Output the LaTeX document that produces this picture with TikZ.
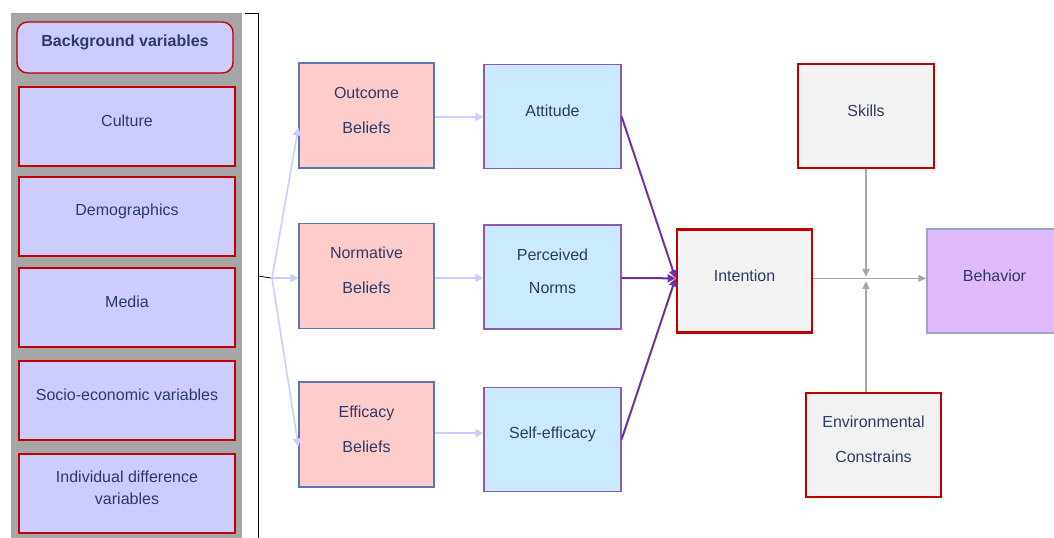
\documentclass[tikz,border=0pt]{standalone}
\usepackage{fontspec}
\setmainfont{Liberation Sans}
\usetikzlibrary{arrows.meta}

\definecolor{txtnavy}{HTML}{2E3B66}
\definecolor{panelgray}{HTML}{A6A6A6}
\definecolor{lavender}{HTML}{CCCCFF}
\definecolor{boxred}{HTML}{C00000}
\definecolor{pinkfill}{HTML}{FFCCCC}
\definecolor{pinkline}{HTML}{5676B4}
\definecolor{bluefill}{HTML}{CCEAFF}
\definecolor{purpline}{HTML}{7030A0}
\definecolor{greyfill}{HTML}{F2F2F2}
\definecolor{behfill}{HTML}{E0BBFC}
\definecolor{behline}{HTML}{9AA6C4}
\definecolor{arrgray}{HTML}{A6A6A6}

\begin{document}
\begin{tikzpicture}[x=0.75pt,y=-0.75pt,
    lbl/.style={font=\fontsize{12}{26.25}\selectfont, text=txtnavy, align=center},
    bgbox/.style={draw=boxred, line width=1pt, fill=lavender, minimum width=162pt, minimum height=59.25pt},
    pinkbox/.style={draw=pinkline, line width=0.9pt, fill=pinkfill, minimum width=101.25pt, minimum height=78.75pt},
    bluebox/.style={draw=purpline!80, line width=0.9pt, fill=bluefill, minimum width=102.75pt, minimum height=78pt},
    redbox/.style={draw=boxred, line width=2.2pt, fill=greyfill, minimum width=101.25pt, minimum height=77.25pt},
    lightarr/.style={draw=lavender, line width=1.2pt, -{Triangle[length=6pt,width=6pt]}},
    purparr/.style={draw=purpline, line width=1.5pt, -{Triangle[length=6pt,width=6pt]}},
    grayarr/.style={draw=arrgray, -{Triangle[length=6pt,width=5pt]}}]

    \useasboundingbox (0,0) rectangle (1054,538);

    % Background panel
    \fill[panelgray] (11,13) rectangle (242,545);
    \node[bgbox, rounded corners=8pt, minimum height=38.25pt] (bg) at (125,47.5) {};
    \node[bgbox] (cul) at (127,126.5) {};
    \node[bgbox] (dem) at (127,216.5) {};
    \node[bgbox] (med) at (127,307.5) {};
    \node[bgbox] (soc) at (127,400.5) {};
    \node[bgbox] (ind) at (127,493.5) {};

    \node[lbl, font=\fontsize{12}{26.25}\bfseries] at ([yshift=4pt]bg.center) {Background variables};
    \node[lbl] at ([yshift=4pt]cul.center) {Culture};
    \node[lbl] at ([yshift=4pt]dem.center) {Demographics};
    \node[lbl] at ([yshift=4pt]med.center) {Media};
    \node[lbl] at ([yshift=4pt]soc.center) {Socio-economic variables};
    \node[lbl, font=\fontsize{12}{16.5}\selectfont] at ([yshift=4pt]ind.center) {Individual difference\\variables};

    % Bracket
    \draw[line width=0.6pt] (245,13) -- (258,13) -- (258,545);
    \draw[line width=0.6pt] (258,276) -- (271,278);
    \coordinate (brc) at (272,278);

    % Beliefs
    \node[pinkbox] (ob) at (366.5,115.5) {};
    \node[pinkbox] (nb) at (366.5,276) {};
    \node[pinkbox] (eb) at (366.5,434.5) {};
    \node[lbl] at ([yshift=4pt]ob.center) {Outcome\\Beliefs};
    \node[lbl] at ([yshift=4pt]nb.center) {Normative\\Beliefs};
    \node[lbl] at ([yshift=4pt]eb.center) {Efficacy\\Beliefs};

    % Attitude, norms, self-efficacy
    \node[bluebox] (att) at (552.5,116.5) {};
    \node[bluebox] (pn) at (552.5,277) {};
    \node[bluebox] (se) at (552.5,439.5) {};
    \node[lbl] at ([yshift=4pt]att.center) {Attitude};
    \node[lbl, font=\fontsize{12}{24.75}\selectfont] at ([yshift=4pt]pn.center) {Perceived\\Norms};
    \node[lbl] at ([yshift=4pt]se.center) {Self-efficacy};

    % Intention and behavior
    \node[redbox] (int) at (744.5,281) {};
    \node[redbox, minimum width=102pt, minimum height=78pt] (sk) at (866,116) {};
    \node[redbox, minimum height=78pt] (env) at (873.5,445) {};
    \node[draw=behline, line width=0.9pt, fill=behfill, minimum width=101.25pt, minimum height=78pt] (beh) at (994.5,281) {};
    \node[lbl] at ([yshift=4pt]int.center) {Intention};
    \node[lbl] at ([yshift=4pt]sk.center) {Skills};
    \node[lbl] at ([yshift=4pt]env.center) {Environmental\\Constrains};
    \node[lbl] at ([yshift=4pt]beh.center) {Behavior};

    % Arrows
    \draw[lightarr] (brc) -- ([yshift=-9pt]ob.west);
    \draw[lightarr] (brc) -- (brc -| nb.west);
    \draw[lightarr] (brc) -- ([yshift=-9pt]eb.west);
    \draw[lightarr] ([yshift=-1pt]ob.east) -- ([yshift=-1pt]ob.east -| att.west);
    \draw[lightarr] ([yshift=-1.5pt]nb.east) -- ([yshift=-1.5pt]nb.east -| pn.west);
    \draw[lightarr] ([yshift=1pt]eb.east) -- ([yshift=1pt]eb.east -| se.west);

    \draw[purparr] (att.east) -- ([yshift=2pt]int.west);
    \draw[purparr] ([yshift=-0.75pt]pn.east) -- ([yshift=2pt]int.west);
    \draw[purparr] (se.east) -- ([yshift=2pt]int.west);

    \draw[grayarr, line width=1pt] ([yshift=2pt]int.east) -- ([yshift=2pt]beh.west);
    \draw[grayarr, line width=2pt] (sk.south) -- ([yshift=3pt]sk.south |- int.east);
    \draw[grayarr, line width=2pt] (sk.south |- env.north) -- ([yshift=0pt]sk.south |- int.east);
\end{tikzpicture}
\end{document}
